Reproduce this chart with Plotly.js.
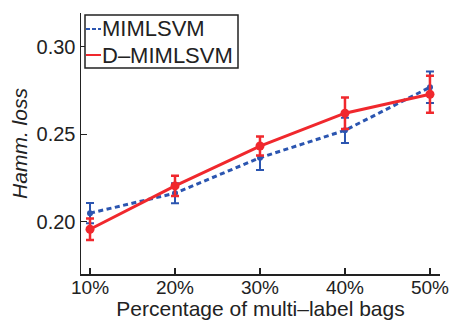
<!DOCTYPE html>
<html>
<head>
<meta charset="utf-8">
<script src="https://cdn.plot.ly/plotly-3.0.1.min.js"></script>
<style>html,body{margin:0;padding:0;background:#fff;}#chart{width:450px;height:320px;}</style>
</head>
<body>
<div id="chart"></div>
<script>
// Data
const percentages = [10, 20, 30, 40, 50];
const tickLabels = ["10%", "20%", "30%", "40%", "50%"];
const yTickVals = [0.20, 0.25, 0.30];
const yTickLabels = ["0.20", "0.25", "0.30"];
const mimlsvm = [0.2048, 0.2162, 0.2365, 0.2522, 0.2768];
const mimlsvmErr = [0.0058, 0.0057, 0.0070, 0.0072, 0.0090];
const dMimlsvm = [0.1956, 0.2204, 0.2432, 0.2620, 0.2728];
const dMimlsvmErr = [0.0062, 0.0058, 0.0054, 0.0090, 0.0106];
const seriesNames = ["MIMLSVM", "D\u2013MIMLSVM"];

const BLUE = "#2b55b0";
const RED = "#f0282d";
const FONT = "Liberation Sans, Arial, sans-serif";
const INK = "#222";

// plot area in pixels
const L = 81, R = 440, T = 13, B = 274;
const W = 450, H = 320;
const px = v => (v - L) / (R - L);
const py = v => (B - v) / (B - T);

const traces = [
  {
    x: percentages, y: mimlsvm, name: seriesNames[0], type: "scatter", mode: "lines+markers",
    line: {color: BLUE, width: 3, dash: "5px,3.5px"},
    marker: {color: BLUE, size: 6},
    error_y: {type: "data", array: mimlsvmErr, visible: true, color: BLUE, thickness: 2, width: 4}
  },
  {
    x: percentages, y: dMimlsvm, name: seriesNames[1], type: "scatter", mode: "lines+markers",
    line: {color: RED, width: 3},
    marker: {color: RED, size: 9},
    error_y: {type: "data", array: dMimlsvmErr, visible: true, color: RED, thickness: 2.5, width: 4}
  }
];

const legendShapes = [
  {type: "rect", xref: "paper", yref: "paper", x0: px(85), x1: px(238), y0: py(68), y1: py(15),
   line: {color: INK, width: 1.5}, fillcolor: "#fff", layer: "above"},
  {type: "line", xref: "paper", yref: "paper", x0: px(86), x1: px(101), y0: py(29), y1: py(29),
   line: {color: BLUE, width: 2, dash: "4px,2px"}, layer: "above"},
  {type: "line", xref: "paper", yref: "paper", x0: px(86), x1: px(101), y0: py(55), y1: py(55),
   line: {color: RED, width: 2}, layer: "above"}
];

const legendAnnotations = [
  {xref: "paper", yref: "paper", x: px(100), y: py(29), xanchor: "left", yanchor: "middle",
   text: seriesNames[0], showarrow: false, font: {family: FONT, size: 22, color: INK}},
  {xref: "paper", yref: "paper", x: px(100), y: py(55), xanchor: "left", yanchor: "middle",
   text: seriesNames[1], showarrow: false, font: {family: FONT, size: 22, color: INK}}
];

const layout = {
  width: W, height: H,
  margin: {l: L, r: W - R, t: T, b: H - B, pad: 0},
  paper_bgcolor: "#fff", plot_bgcolor: "#fff",
  showlegend: false,
  font: {family: FONT, size: 20, color: INK},
  xaxis: {
    range: [8.94, 51.18], tickvals: percentages, ticktext: tickLabels,
    ticks: "inside", ticklen: 6, tickwidth: 1.2, tickcolor: INK,
    showline: true, linecolor: INK, linewidth: 1.5, showgrid: false, zeroline: false,
    tickfont: {family: FONT, size: 19, color: INK},
    ticklabeloverflow: "allow", ticklabelstandoff: -4,
    title: {text: "Percentage of multi\u2013label bags", font: {family: FONT, size: 21, color: INK}, standoff: 0}
  },
  yaxis: {
    range: [0.170, 0.3193], tickvals: yTickVals, ticktext: yTickLabels,
    ticks: "inside", ticklen: 6, tickwidth: 1.2, tickcolor: INK,
    showline: true, linecolor: INK, linewidth: 1.5, showgrid: false, zeroline: false,
    tickfont: {family: FONT, size: 20, color: INK},
    title: {text: "<i>Hamm. loss</i>", font: {family: FONT, size: 21, color: INK}, standoff: 3}
  },
  shapes: legendShapes,
  annotations: legendAnnotations
};

Plotly.newPlot("chart", traces, layout, {displayModeBar: false, staticPlot: true});
</script>
</body>
</html>
